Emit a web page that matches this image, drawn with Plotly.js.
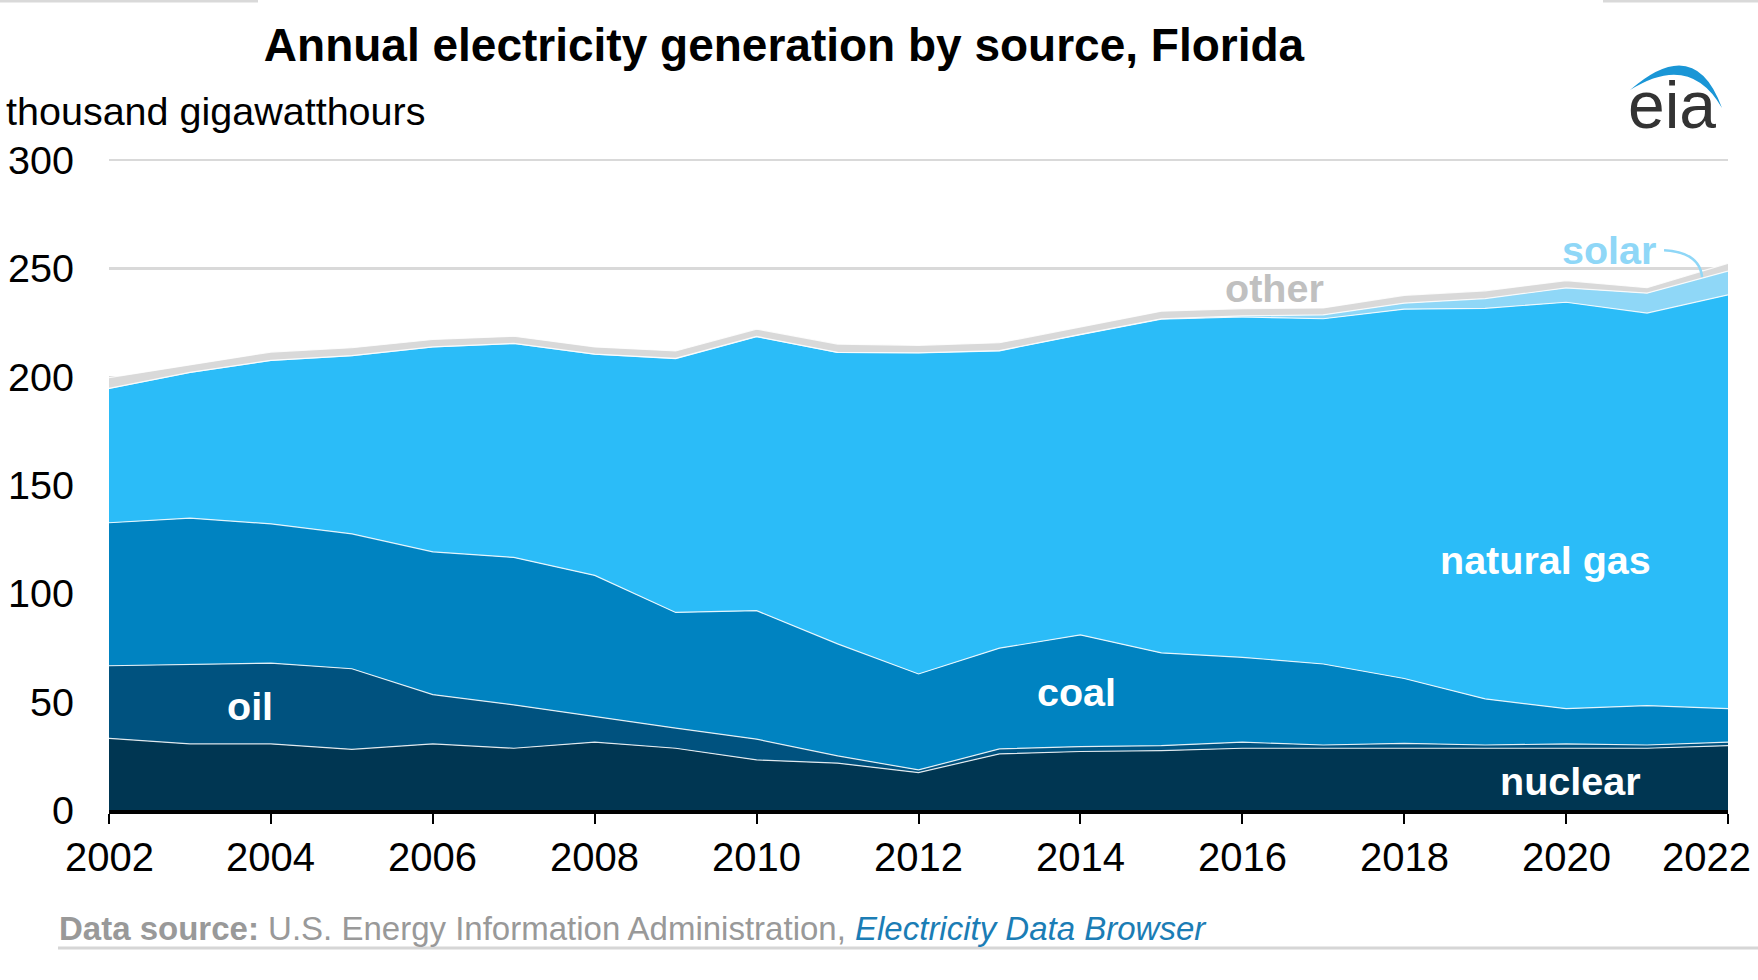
<!DOCTYPE html>
<html>
<head>
<meta charset="utf-8">
<script src="https://cdn.plot.ly/plotly-3.0.1.min.js"></script>
<style>
  html, body { margin: 0; padding: 0; background: #ffffff; }
  #chart { width: 1758px; height: 980px; }
</style>
</head>
<body>
<div id="chart"></div>
<script>
// ---------------- data (thousand gigawatthours) ----------------
const years = [2002, 2003, 2004, 2005, 2006, 2007, 2008, 2009, 2010, 2011, 2012,
               2013, 2014, 2015, 2016, 2017, 2018, 2019, 2020, 2021, 2022];
const nuclear = [33.1, 30.5, 30.5, 28.0, 30.5, 28.5, 31.3, 28.5, 23.1, 21.6, 17.3,
                 25.9, 27.0, 27.4, 28.5, 28.5, 28.5, 28.5, 28.5, 28.5, 29.7];
const oil = [33.5, 36.8, 37.3, 37.2, 22.8, 20.0, 11.8, 9.3, 9.6, 3.4, 1.2,
             2.3, 2.3, 2.3, 2.8, 1.5, 2.3, 1.5, 2.0, 1.5, 1.6];
const coal = [66.0, 67.4, 64.3, 62.3, 65.9, 68.1, 65.2, 53.4, 59.3, 51.7, 44.3,
              46.5, 51.5, 42.8, 39.2, 37.4, 29.9, 21.3, 16.3, 18.2, 15.5];
const naturalGas = [62.0, 67.3, 75.5, 82.3, 94.6, 98.8, 102.2, 117.2, 126.5, 134.5, 148.2,
                    137.3, 138.6, 154.1, 157.1, 159.4, 170.5, 180.3, 187.6, 181.2, 191.0];
const solar = [0, 0, 0, 0, 0, 0, 0, 0.1, 0.1, 0.1, 0.1,
               0.1, 0.2, 0.2, 0.5, 1.8, 2.8, 4.5, 6.6, 9.2, 11.0];
const other = [5.0, 3.6, 3.8, 3.6, 3.4, 3.3, 3.3, 3.4, 3.4, 3.8, 3.4,
               3.6, 3.4, 3.5, 3.4, 3.2, 3.6, 3.6, 3.4, 2.5, 3.6];

const seriesNames = ['nuclear', 'oil', 'coal', 'natural gas', 'solar', 'other'];
const yTickVals = [0, 50, 100, 150, 200, 250, 300];
const xTickVals = [2002, 2004, 2006, 2008, 2010, 2012, 2014, 2016, 2018, 2020, 2022];
const xTickLabels = ['2002', '2004', '2006', '2008', '2010', '2012', '2014', '2016', '2018', '2020', '2022'];

// ---------------- styling ----------------
const FONT = 'Liberation Sans, Arial, Helvetica, sans-serif';
const colors = {
  'nuclear': '#003652',
  'oil': '#00527f',
  'coal': '#0083c1',
  'natural gas': '#2bbcf8',
  'solar': '#8fd7f7',
  'other': '#d9d9d9'
};
const W = 1758, H = 980;
const M = { l: 109, r: 30, t: 158, b: 170 };
const PW = W - M.l - M.r, PH = H - M.t - M.b;
// pixel -> paper helpers
const px = x => (x - M.l) / PW;
const py = y => (H - M.b - y) / PH;

const values = [nuclear, oil, coal, naturalGas, solar, other];
const traces = seriesNames.map((name, i) => ({
  type: 'scatter',
  mode: 'lines',
  name: name,
  x: years,
  y: values[i],
  stackgroup: 'one',
  fillcolor: colors[name],
  line: { color: 'rgba(255,255,255,0.85)', width: 1.2 },
  hoverinfo: 'skip'
}));

const annotations = [];
// x tick labels
xTickVals.forEach((v, i) => {
  annotations.push({
    xref: 'x', yref: 'paper', x: v, y: 0,
    xanchor: 'center', yanchor: 'top',
    xshift: i === xTickVals.length - 1 ? -22 : 0,
    yshift: -23,
    text: xTickLabels[i], showarrow: false,
    font: { family: FONT, size: 40, color: '#000000' }
  });
});
// y-axis unit label
annotations.push({
  xref: 'paper', yref: 'paper', x: px(4), y: py(111),
  xanchor: 'left', yanchor: 'middle', showarrow: false,
  text: 'thousand gigawatthours',
  font: { family: FONT, size: 39.5, color: '#000000' }
});
// series labels
const lab = (text, x, y, color) => ({
  xref: 'x', yref: 'y', x: x, y: y, xanchor: 'center', yanchor: 'middle',
  showarrow: false, text: '<b>' + text + '</b>',
  font: { family: FONT, size: 39.5, color: color }
});
annotations.push(lab('oil', 2003.74, 48.0, '#ffffff'));
annotations.push(lab('coal', 2013.95, 54.5, '#ffffff'));
annotations.push(lab('natural gas', 2019.74, 115.2, '#ffffff'));
annotations.push(lab('nuclear', 2020.06, 13.2, '#ffffff'));
annotations.push(lab('other', 2016.4, 240.8, '#c0c0c0'));
annotations.push(lab('solar', 2020.53, 258.7, '#8fd7f7'));
// source
annotations.push({
  xref: 'paper', yref: 'paper', x: px(57), y: py(928),
  xanchor: 'left', yanchor: 'middle', showarrow: false,
  text: '<b>Data source:</b> U.S. Energy Information Administration, <i><span style="color:#1b7db5">Electricity Data Browser</span></i>',
  font: { family: FONT, size: 33, color: '#999999' }
});
// eia logo text
annotations.push({
  xref: 'paper', yref: 'paper', x: px(1672), y: py(105),
  xanchor: 'center', yanchor: 'middle', showarrow: false,
  text: 'eia',
  font: { family: FONT, size: 66, color: '#333333' }
});

const P = (x, y) => px(x).toFixed(5) + ',' + py(y).toFixed(5);
const shapes = [
  // top decorative lines
  { type: 'line', xref: 'paper', yref: 'paper', x0: px(0), x1: px(258), y0: py(1), y1: py(1),
    line: { color: '#d9d9d9', width: 3 } },
  { type: 'line', xref: 'paper', yref: 'paper', x0: px(1603), x1: px(1758), y0: py(1), y1: py(1),
    line: { color: '#d9d9d9', width: 3 } },
  // bottom rule
  { type: 'line', xref: 'paper', yref: 'paper', x0: px(58), x1: px(1758), y0: py(948), y1: py(948),
    line: { color: '#d6d6d6', width: 3 } },
  // eia arc
  { type: 'path', xref: 'paper', yref: 'paper', layer: 'above',
    path: 'M ' + P(1630, 90) + ' Q ' + P(1695, 33) + ' ' + P(1722, 108) +
          ' Q ' + P(1690, 52) + ' ' + P(1630, 90) + ' Z',
    fillcolor: '#1a96d6', line: { width: 0 } },
  // solar leader line
  { type: 'path', xref: 'x', yref: 'y', layer: 'above',
    path: 'M 2021.21,258.4 Q 2021.65,257.5 2021.68,246',
    line: { color: '#8fd7f7', width: 2.5 } }
];

const layout = {
  width: W, height: H,
  margin: M,
  paper_bgcolor: '#ffffff', plot_bgcolor: '#ffffff',
  showlegend: false,
  font: { family: FONT, color: '#000000' },
  title: {
    text: '<b>Annual electricity generation by source, Florida</b>',
    xref: 'container', yref: 'container',
    x: 784 / W, xanchor: 'center', y: 1 - 45 / H, yanchor: 'middle',
    font: { family: FONT, size: 46, color: '#000000' }
  },
  xaxis: {
    range: [2002, 2022], showgrid: false, zeroline: false,
    showline: true, linecolor: '#000000', linewidth: 3.5,
    ticks: 'outside', ticklen: 10, tickwidth: 2, tickcolor: '#000000',
    tickvals: xTickVals, showticklabels: false, fixedrange: true
  },
  yaxis: {
    range: [0, 301], tickvals: yTickVals, ticktext: yTickVals.map(String),
    showgrid: true, gridcolor: '#d9d9d9', gridwidth: 2.2,
    zeroline: false, showline: false, ticks: '',
    ticklabelstandoff: 34,
    tickfont: { family: FONT, size: 39.5, color: '#000000' }, fixedrange: true
  },
  annotations: annotations,
  shapes: shapes
};

Plotly.newPlot('chart', traces, layout, { displayModeBar: false, staticPlot: true });
</script>
</body>
</html>
